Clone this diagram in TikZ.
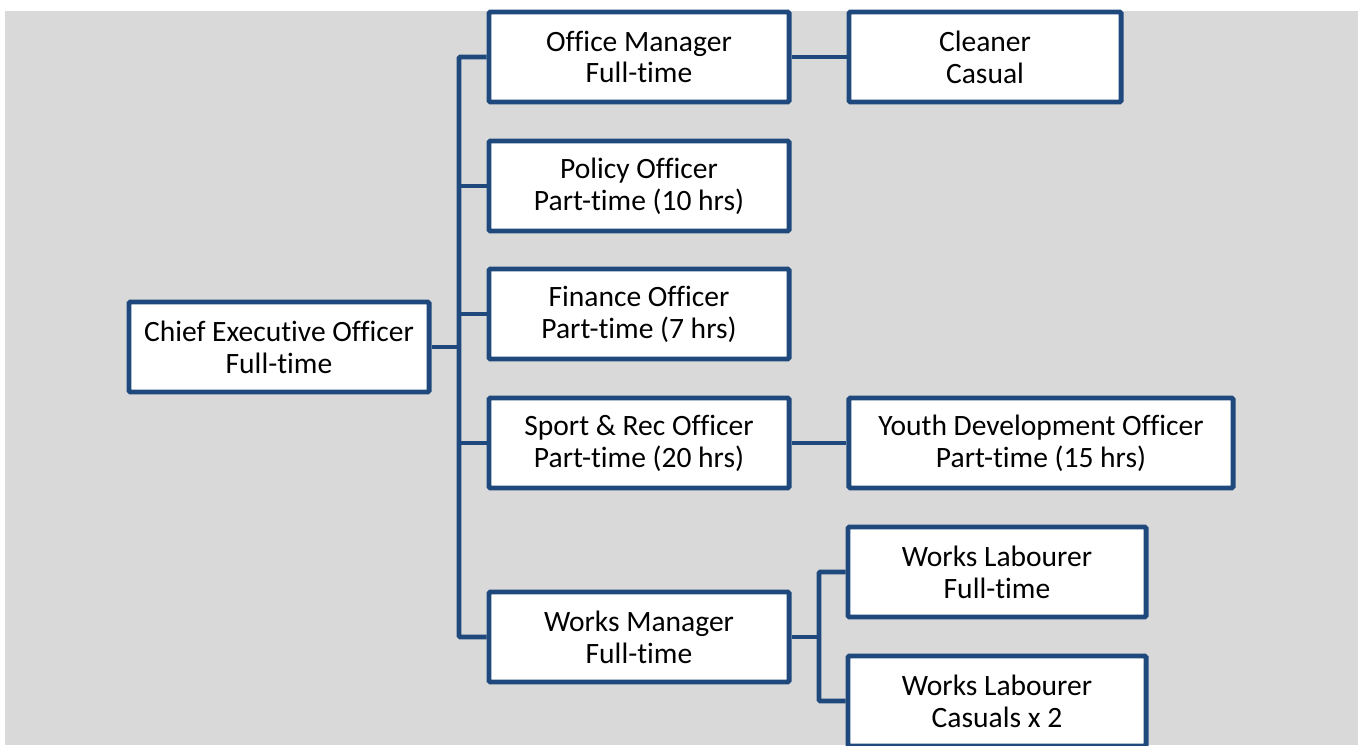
\documentclass[tikz,border=0pt]{standalone}
\usepackage{fontspec}
\setmainfont{Carlito}[Ligatures=NoCommon]
\definecolor{boxblue}{HTML}{1F497D}
\definecolor{bggray}{HTML}{D9D9D9}

\begin{document}
\begin{tikzpicture}[x=0.025cm, y=-0.025cm,
    post/.style={draw=boxblue, fill=white, line width=3.5pt, rounded corners=1pt,
                 minimum width=7.5cm, minimum height=2.25cm, inner sep=0pt,
                 align=center, font=\fontsize{21}{22.6}\selectfont},
    link/.style={draw=boxblue, line width=3.5pt, rounded corners=1pt}]

    \clip (0,0) rectangle (1364,745);
    \fill[bggray] (5,11) rectangle (1358,745);

    % posts
    \node[post] (ceo) at (279,347) {Chief Executive Officer\\Full-time};
    \node[post] (om) at (639,57) {Office Manager\\Full-time};
    \node[post, minimum width=6.8cm] (cl) at (985,57) {Cleaner\\Casual};
    \node[post] (po) at (639,186) {Policy Officer\\Part-time (10 hrs)};
    \node[post] (fo) at (639,314) {Finance Officer\\Part-time (7 hrs)};
    \node[post] (sr) at (639,443) {Sport \& Rec Officer\\Part-time (20 hrs)};
    \node[post, minimum width=9.6cm] (yd) at (1041,443) {Youth Development Officer\\Part-time (15 hrs)};
    \node[post] (wm) at (639,637) {Works Manager\\Full-time};
    \node[post, minimum width=7.45cm] (wl) at (997,572) {Works Labourer\\Full-time};
    \node[post, minimum width=7.45cm] (wc) at (997,701) {Works Labourer\\Casuals x 2};

    % reporting lines
    \coordinate (trunk) at (459,347);
    \coordinate (fork) at (819,637);
    \draw[link] (ceo.east) -- (trunk);
    \draw[link] (om.west) -| (trunk) |- (wm.west);
    \foreach \n in {po,fo,sr}
        {
          \draw[link] (trunk |- \n.west) -- (\n.west);
        }
    \draw[link] (om.east) -- (cl.west);
    \draw[link] (sr.east) -- (yd.west);
    \draw[link] (wm.east) -- (fork);
    \draw[link] (wl.west) -| (fork) |- (wc.west);

\end{tikzpicture}
\end{document}
